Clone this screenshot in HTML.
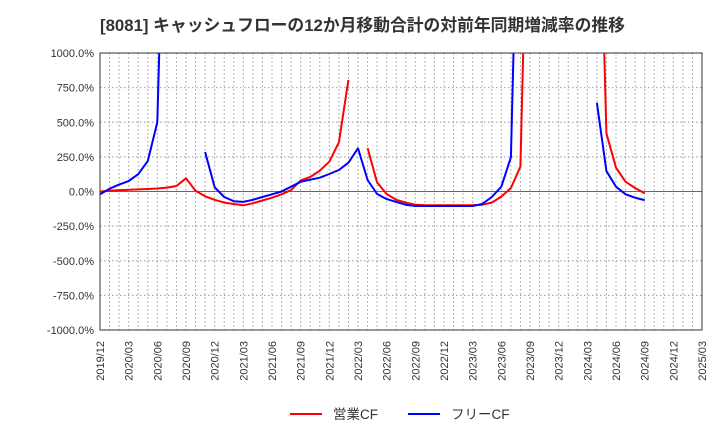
<!DOCTYPE html>
<html><head><meta charset="utf-8"><style>
body{margin:0;background:#fff;width:720px;height:440px;overflow:hidden;font-family:"Liberation Sans","Noto Sans CJK JP",sans-serif}
</style></head><body>
<svg id="c" width="720" height="440" xmlns="http://www.w3.org/2000/svg">
<text x="100" y="31" font-size="16.8" font-weight="bold" fill="#333" font-family="Liberation Sans,Noto Sans CJK JP,sans-serif">[8081]  キャッシュフローの12か月移動合計の対前年同期増減率の推移</text>
</svg>
<script>
const months = 63; // 2019/12 .. 2025/03
const startYear = 2019, startMonth = 12;
const yTicks = [1000,750,500,250,0,-250,-500,-750,-1000];
const yTickLabels = ["1000.0%","750.0%","500.0%","250.0%","0.0%","-250.0%","-500.0%","-750.0%","-1000.0%"];
const opCF = [0,5,10,12,15,18,22,28,40,95,5,-35,-60,-80,-90,-100,-85,-65,-45,-20,10,80,105,150,215,355,805,null,313,65,-18,-60,-80,-95,-100,-100,-100,-100,-100,-100,-95,-80,-37,25,180,3000,null,null,null,null,null,null,3000,420,172,70,25,-13];
const freeCF = [-20,20,50,76,125,220,500,3000,null,null,null,285,30,-40,-70,-75,-60,-40,-20,0,35,70,85,100,126,155,208,312,83,-18,-55,-75,-95,-105,-105,-105,-105,-105,-105,-105,-90,-40,35,247,3000,null,null,null,null,null,null,null,640,148,35,-20,-45,-62];
const L=100,R=702,T=53,B=330;
const xs=i=>L+i*(R-L)/months;
const ys=v=>T+(1000-v)*(B-T)/2000;
const svg=document.getElementById('c');
const NS='http://www.w3.org/2000/svg';
function mk(t,a){const e=document.createElementNS(NS,t);for(const k in a)e.setAttribute(k,a[k]);svg.appendChild(e);return e;}
const defs=mk('defs',{});const cp=document.createElementNS(NS,'clipPath');cp.setAttribute('id','pc');
const cr=document.createElementNS(NS,'rect');cr.setAttribute('x',L);cr.setAttribute('y',T);cr.setAttribute('width',R-L);cr.setAttribute('height',B-T);cp.appendChild(cr);defs.appendChild(cp);
for(let i=1;i<months;i++){
 const g=mk('line',{x1:xs(i),x2:xs(i),y1:T,y2:B,stroke:'#999','stroke-dasharray':'1.5,2.5','stroke-width':1});
 
 
}
yTicks.forEach((v,k)=>{
 if(v!==1000&&v!==-1000&&v!==0){const g=mk('line',{x1:L,x2:R,y1:ys(v),y2:ys(v),stroke:'#999','stroke-dasharray':'1.5,2.5','stroke-width':1});
 
 }
 const t=mk('text',{x:L-6,y:ys(v)+4,'text-anchor':'end','font-size':11,fill:'#333'});
 t.textContent=yTickLabels[k];
 
 
});
const z=mk('line',{x1:L,x2:R,y1:ys(0),y2:ys(0),stroke:'#666','stroke-width':1});


const fr=mk('rect',{x:L,y:T,width:R-L,height:B-T,fill:'none',stroke:'#333','stroke-width':1});


for(let i=0;i<=months;i+=3){
 const m=(startMonth-1+i)%12+1, y=startYear+Math.floor((startMonth-1+i)/12);
 const x=xs(i)+4;
 const t=mk('text',{x:x,y:341,transform:`rotate(-90 ${x} 341)`,'text-anchor':'end','font-size':11,fill:'#333'});
 t.textContent=y+'/'+String(m).padStart(2,'0');
 
 
}
function series(data,color,name){
 let d='',pen=false;
 data.forEach((v,i)=>{ if(v===null){pen=false;return;} d+=(pen?'L':'M')+xs(i).toFixed(1)+' '+ys(v).toFixed(1)+' '; pen=true;});
 const p=mk('path',{d:d,fill:'none',stroke:color,'stroke-width':2,'clip-path':'url(#pc)','stroke-linejoin':'round'});
 
 
}
series(opCF,'#f00','operating-cf-line');
series(freeCF,'#00f','free-cf-line');
const l1=mk('line',{x1:290,x2:322,y1:414,y2:414,stroke:'#f00','stroke-width':2});


const t1=mk('text',{x:333,y:419,'font-size':13.5,fill:'#333'});t1.textContent='営業CF';


const l2=mk('line',{x1:408,x2:440,y1:414,y2:414,stroke:'#00f','stroke-width':2});


const t2=mk('text',{x:451,y:419,'font-size':13.5,fill:'#333'});t2.textContent='フリーCF';


</script>
</body></html>
